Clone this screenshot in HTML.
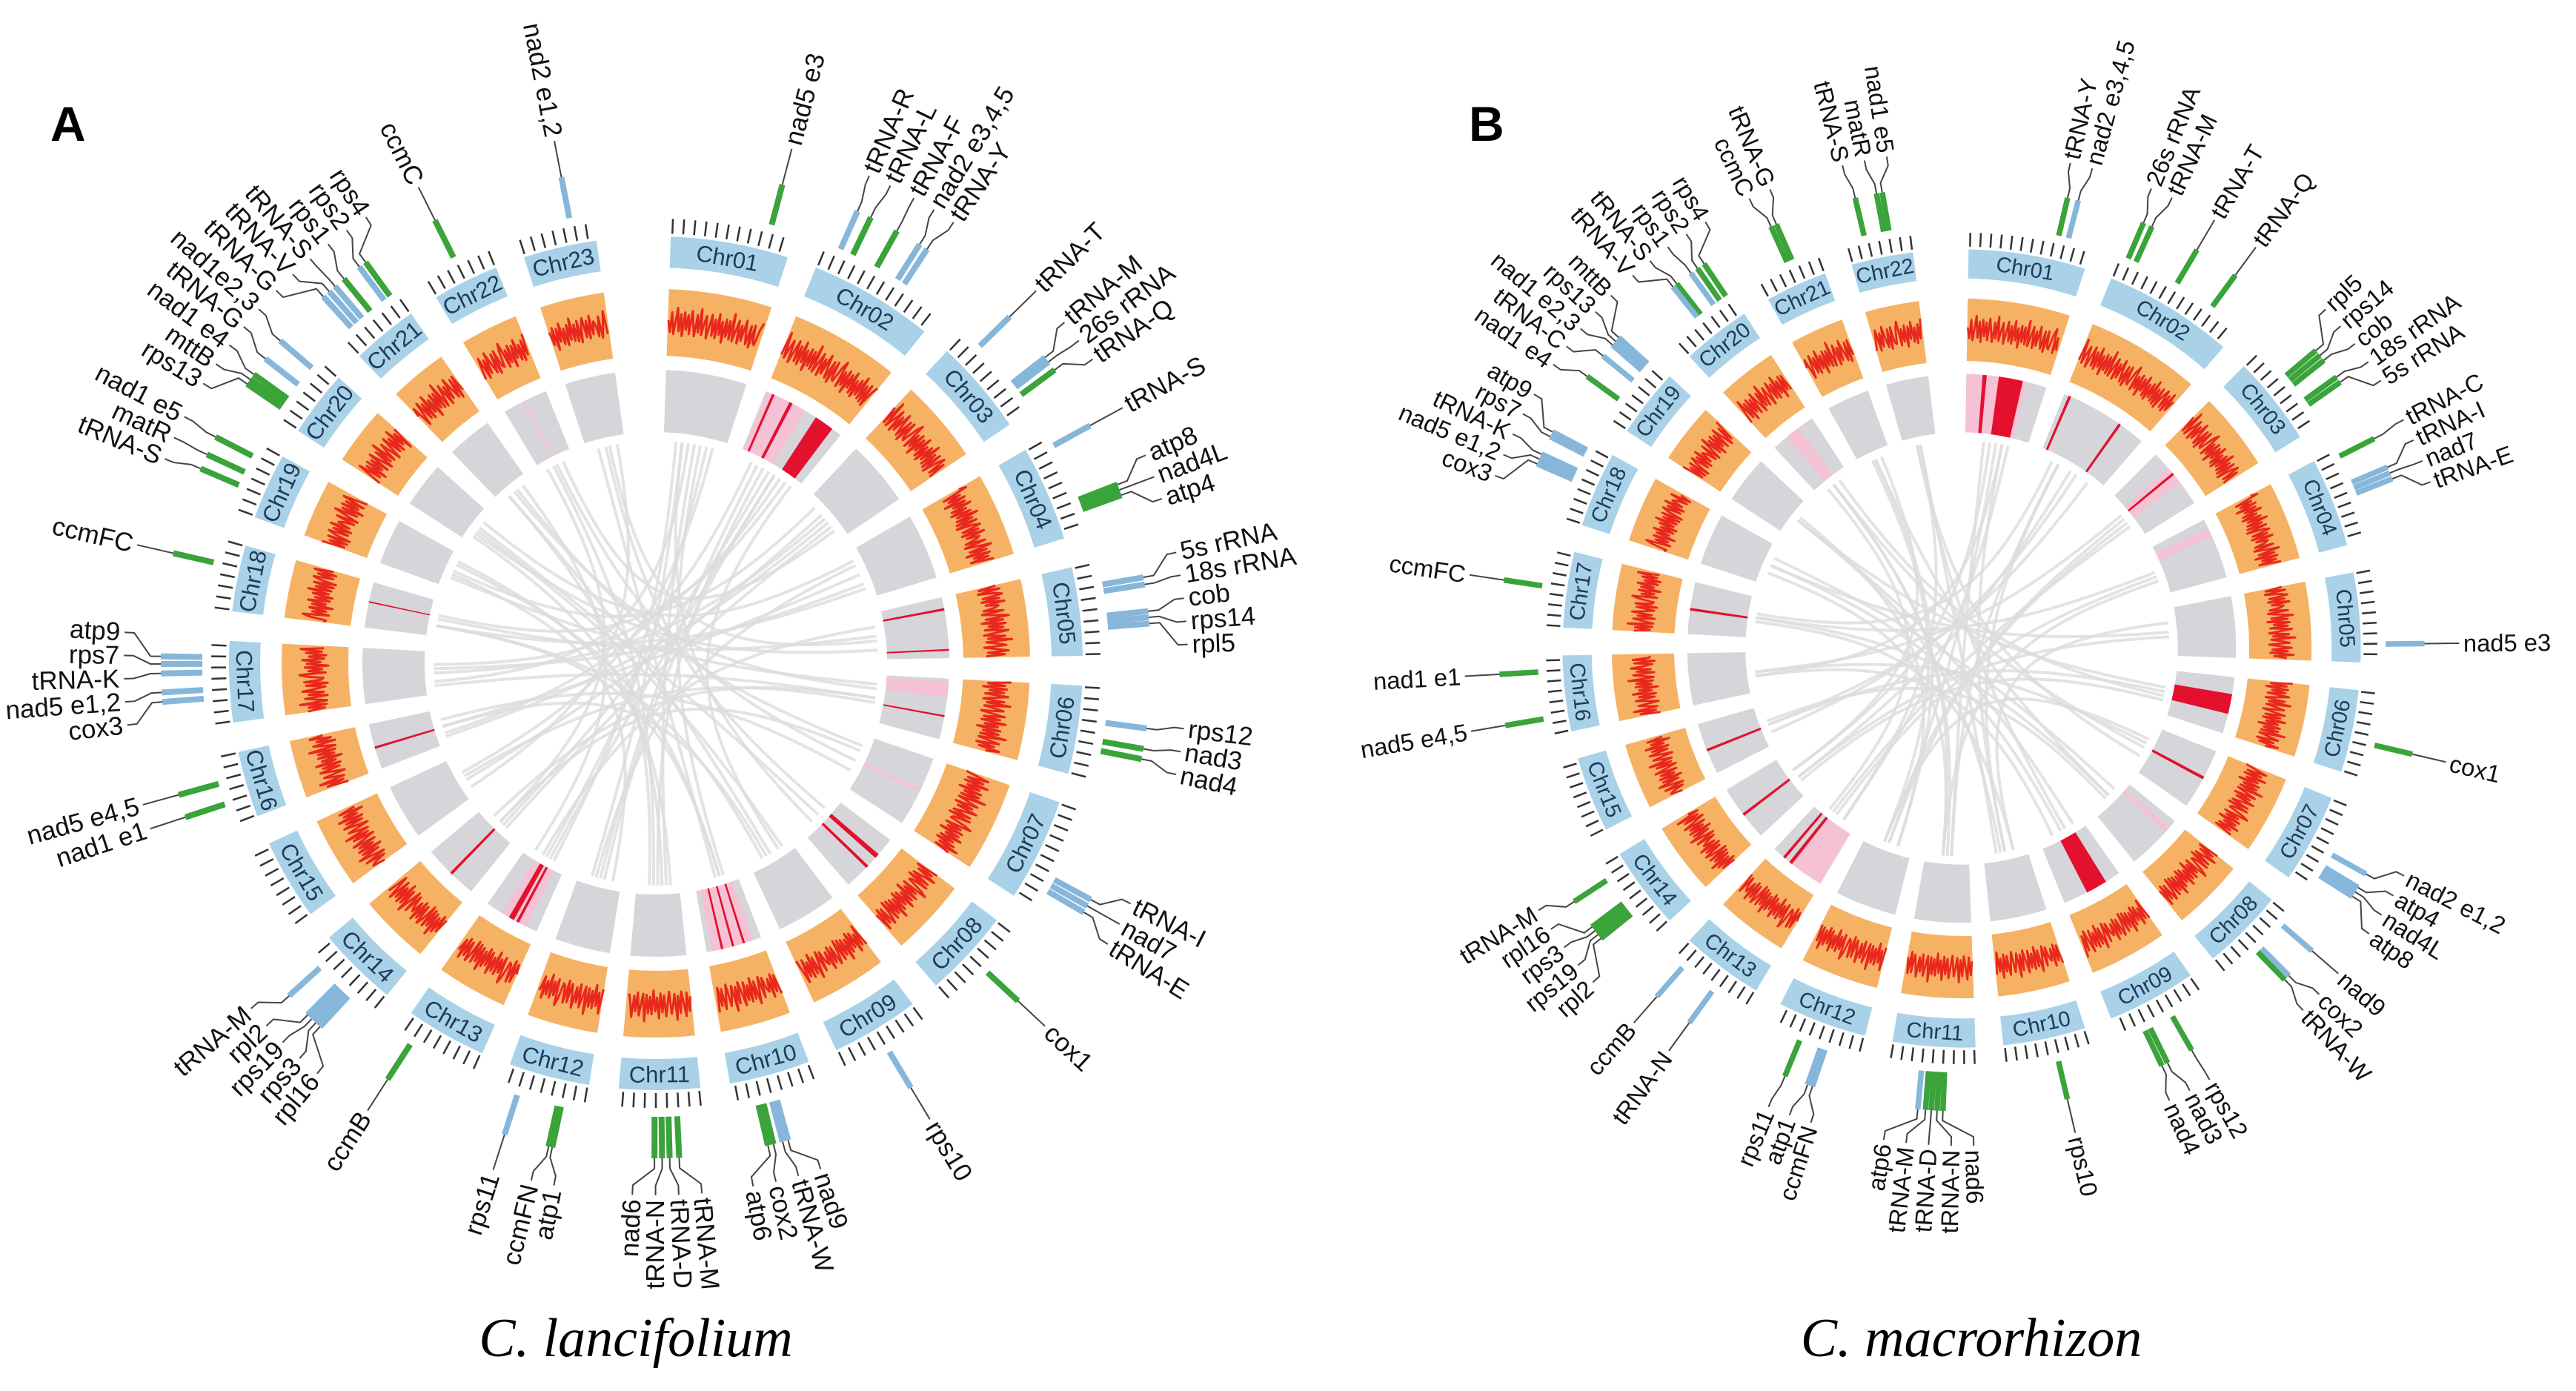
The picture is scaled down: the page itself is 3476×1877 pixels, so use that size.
<!DOCTYPE html>
<html><head><meta charset="utf-8"><title>Circos plots</title>
<style>
html,body{margin:0;padding:0;background:#fff;}
svg{display:block;}
text{font-family:"Liberation Sans",sans-serif;}
</style></head>
<body>
<svg id="fig" width="3476" height="1877" viewBox="0 0 3476 1877" xmlns="http://www.w3.org/2000/svg">
  <rect x="0" y="0" width="3476" height="1877" fill="#fff"/>
  <text x="68" y="190" font-size="66" font-weight="bold" fill="#000">A</text>
  <text x="1982" y="190" font-size="66" font-weight="bold" fill="#000">B</text>
  <text x="858" y="1830" font-size="74" font-style="italic" text-anchor="middle" style="font-family:'Liberation Serif',serif" fill="#000">C. lancifolium</text>
  <text x="2660" y="1830" font-size="74" font-style="italic" text-anchor="middle" style="font-family:'Liberation Serif',serif" fill="#000">C. macrorhizon</text>
  <g id="panelA"></g>
  <g id="panelB"></g>
</svg>
<script>
// ---------- DATA ----------
const chrSizesA = [16,17,13,13,12,12,14,12,12,11,11,11,11,11,11,9,11,9,9,9,9,9,10];
const chrSizesB = [17,19,13,13,13,12,13,12,13,12,12,13,12,12,11,11,11,11,10,10,9,9];

// GC-like wiggle values (hand entered, 0..1)
const wiggle = [0.55,0.32,0.71,0.28,0.52,0.80,0.34,0.68,0.25,0.72,0.38,0.67,0.30,0.76,0.50,0.27,0.69,0.35,0.82,0.31,
0.53,0.70,0.26,0.49,0.74,0.33,0.66,0.29,0.78,0.37,0.64,0.23,0.70,0.36,0.68,0.32,0.84,0.30,0.51,0.73,
0.28,0.65,0.35,0.77,0.50,0.31,0.69,0.26,0.72,0.38,0.34,0.67,0.81,0.29,0.63,0.36,0.70,0.24,0.66,0.39,
0.75,0.32,0.62,0.28,0.68,0.37,0.79,0.33,0.65,0.30,0.71,0.27,0.60,0.74,0.35,0.67,0.31,0.76,0.38,0.63];

// genes: chromosome number, relative position, colour code, name
const geneChrA = [23,22,21,21,21,21,21,21,20,20,20,20,20,19,19,19,18,17,17,17,17,17,16,16,14,14,14,14,14,13,12,12,12,11,11,11,11,10,10,10,10,9,8,7,7,7,6,6,6,5,5,5,5,5,4,4,4,4,3,3,3,3,2,2,2,2,2,1];
const genePosA = [0.7,0.5,0.2,0.3,0.4,0.55,0.8,0.9,0.85,0.55,0.3,0.22,0.15,0.8,0.55,0.35,0.65,0.8,0.72,0.62,0.42,0.32,0.62,0.32,0.8,0.52,0.46,0.4,0.34,0.8,0.8,0.32,0.28,0.3,0.4,0.48,0.56,0.72,0.66,0.56,0.5,0.5,0.5,0.68,0.74,0.8,0.38,0.58,0.68,0.25,0.32,0.58,0.64,0.7,0.1,0.68,0.73,0.78,0.2,0.68,0.73,0.82,0.12,0.22,0.42,0.6,0.66,0.8];
const geneColA = "bgbbbgbgbbgggggggbbbbbggbbbbbgbggggggggbbbgbbbbggbbbbbbgggbbbgbggbbg";
const geneNameA = ["nad2 e1,2","ccmC","tRNA-G","tRNA-V","tRNA-S","rps1","rps2","rps4","nad1e2,3","tRNA-G","nad1 e4","mttB","rps13","nad1 e5","matR","tRNA-S","ccmFC","atp9","rps7","tRNA-K","nad5 e1,2","cox3","nad5 e4,5","nad1 e1","tRNA-M","rpl2","rps19","rps3","rpl16","ccmB","rps11","ccmFN","atp1","tRNA-M","tRNA-D","tRNA-N","nad6","atp6","cox2","tRNA-W","nad9","rps10","cox1","tRNA-I","nad7","tRNA-E","rps12","nad3","nad4","5s rRNA","18s rRNA","cob","rps14","rpl5","tRNA-S","atp8","nad4L","atp4","tRNA-T","tRNA-M","26s rRNA","tRNA-Q","tRNA-R","tRNA-L","tRNA-F","nad2 e3,4,5","tRNA-Y","nad5 e3"];

const geneChrB = [22,22,22,21,21,20,20,20,20,20,19,19,19,19,19,18,18,18,18,18,17,16,16,14,14,14,14,14,13,13,12,12,12,11,11,11,11,11,10,9,9,9,8,8,8,7,7,7,7,6,5,4,4,4,4,3,3,3,3,3,2,2,2,2,1,1];
const genePosB = [0.3,0.6,0.68,0.6,0.52,0.92,0.82,0.72,0.5,0.44,0.92,0.86,0.8,0.62,0.3,0.9,0.84,0.62,0.56,0.5,0.5,0.8,0.22,0.82,0.5,0.45,0.4,0.35,0.85,0.42,0.65,0.42,0.37,0.62,0.54,0.48,0.42,0.36,0.4,0.72,0.66,0.4,0.15,0.5,0.56,0.55,0.7,0.75,0.8,0.6,0.8,0.08,0.38,0.44,0.5,0.38,0.44,0.5,0.7,0.76,0.06,0.12,0.45,0.75,0.72,0.8];
const geneColB = "gggggggbgbbbbbgbbbbbggggggggbbgbbbggggggggbbgbbbbgbgbbbggggggggggbgg";
const geneNameB = ["tRNA-S","matR","nad1 e5","tRNA-G","ccmC","rps4","rps2","rps1","tRNA-S","tRNA-V","mttB","rps13","nad1 e2,3","tRNA-C","nad1 e4","atp9","rps7","tRNA-K","nad5 e1,2","cox3","ccmFC","nad1 e1","nad5 e4,5","tRNA-M","rpl16","rps3","rps19","rpl2","ccmB","tRNA-N","rps11","atp1","ccmFN","atp6","tRNA-M","tRNA-D","tRNA-N","nad6","rps10","nad4","nad3","rps12","nad9","cox2","tRNA-W","nad2 e1,2","atp4","nad4L","atp8","cox1","nad5 e3","tRNA-C","tRNA-I","nad7","tRNA-E","rpl5","rps14","cob","18s rRNA","5s rRNA","26s rRNA","tRNA-M","tRNA-T","tRNA-Q","tRNA-Y","nad2 e3,4,5"];

// highlighted segments on the grey track: chr, start, end, kind (p=pink, r=red)
const hlChrA = [2,2,2,2,22,18,5,5,6,6,7,8,8,10,10,10,10,13,13,13,14,16];
const hlStartA = [0.02,0.08,0.3,0.65,0.45,0.55,0.18,0.85,0.05,0.6,0.45,0.3,0.55,0.15,0.3,0.5,0.7,0.2,0.35,0.45,0.45,0.45];
const hlEndA = [0.5,0.11,0.34,0.88,0.5,0.58,0.22,0.88,0.3,0.63,0.5,0.38,0.6,0.9,0.34,0.54,0.74,0.7,0.4,0.55,0.5,0.5];
const hlKindA = "prrrprrrprprrprrrprrrr";

const hlChrB = [1,1,1,2,2,3,3,4,6,7,8,9,9,13,13,13,14,15,17,20];
const hlStartB = [0.0,0.2,0.4,0.05,0.68,0.3,0.4,0.15,0.3,0.45,0.15,0.25,0.45,0.0,0.6,0.75,0.45,0.45,0.45,0.35];
const hlEndB = [0.75,0.25,0.7,0.08,0.71,0.6,0.44,0.3,0.65,0.5,0.25,0.6,0.5,0.6,0.66,0.8,0.5,0.5,0.5,0.65];
const hlKindB = "prrrrprprrprrprrrrrp";

// links: from chr, from pos, to chr, to pos
const linkFromA = [2,2,2,1,1,3,3,4,5,5,6,6,7,7,8,8,9,9,10,10,11,12,12,13,13,14,14,15,15,16,16,17,17,18,19,20,20,21,22,23,2,3,11,12,10,9,8,13,14,15,1,2,4,6,11,16,18,21];
const linkFromPosA = [0.3,0.4,0.5,0.5,0.7,0.5,0.2,0.5,0.5,0.8,0.3,0.6,0.5,0.3,0.5,0.3,0.5,0.7,0.4,0.5,0.6,0.4,0.6,0.3,0.6,0.3,0.7,0.4,0.6,0.3,0.7,0.3,0.6,0.6,0.3,0.7,0.4,0.6,0.7,0.6,0.7,0.6,0.4,0.2,0.3,0.3,0.7,0.8,0.5,0.2,0.3,0.6,0.8,0.5,0.2,0.5,0.3,0.3];
const linkToA = [12,11,14,11,13,17,19,16,18,20,21,15,22,14,20,23,21,18,19,23,22,2,4,1,5,3,6,3,1,2,7,1,4,2,6,4,9,7,3,5,17,16,20,19,1,2,1,21,22,23,12,13,18,17,19,9,10,11];
const linkToPosA = [0.5,0.5,0.4,0.3,0.5,0.5,0.5,0.5,0.5,0.3,0.5,0.5,0.5,0.5,0.5,0.5,0.3,0.3,0.7,0.3,0.4,0.6,0.3,0.2,0.3,0.7,0.5,0.4,0.8,0.2,0.7,0.4,0.7,0.8,0.2,0.2,0.2,0.2,0.8,0.6,0.7,0.2,0.2,0.4,0.6,0.9,0.3,0.8,0.2,0.8,0.7,0.4,0.3,0.2,0.8,0.6,0.4,0.7];

const linkFromB = [1,1,1,2,2,2,3,3,4,5,6,6,7,7,8,8,9,9,10,10,11,11,12,12,13,13,14,14,15,16,17,18,19,20,21,22,1,2,3,4,5,10,11,12,9,8,1,2,6,7];
const linkFromPosB = [0.3,0.5,0.7,0.3,0.5,0.8,0.4,0.7,0.5,0.5,0.4,0.7,0.5,0.3,0.5,0.6,0.4,0.7,0.5,0.3,0.4,0.6,0.5,0.3,0.5,0.7,0.4,0.6,0.5,0.5,0.5,0.5,0.5,0.5,0.5,0.5,0.4,0.6,0.5,0.7,0.3,0.7,0.5,0.6,0.2,0.3,0.6,0.2,0.6,0.7];
const linkToB = [11,12,13,10,14,15,16,13,17,18,19,14,20,12,21,15,22,16,1,17,2,18,3,19,4,20,5,21,6,7,8,9,10,11,12,13,14,15,12,11,10,22,20,21,19,18,16,17,20,22];
const linkToPosB = [0.4,0.5,0.3,0.5,0.4,0.5,0.5,0.6,0.5,0.5,0.5,0.3,0.5,0.6,0.5,0.6,0.4,0.4,0.6,0.4,0.3,0.3,0.6,0.6,0.6,0.3,0.6,0.7,0.5,0.4,0.5,0.5,0.6,0.6,0.3,0.3,0.6,0.3,0.6,0.6,0.3,0.5,0.5,0.4,0.5,0.7,0.4,0.6,0.7,0.4];

// ---------- RENDERING ----------
const NS = "http://www.w3.org/2000/svg";
function mk(tag, attrs, parent){
  const e = document.createElementNS(NS, tag);
  for (const k in attrs) e.setAttribute(k, attrs[k]);
  parent.appendChild(e);
  return e;
}
function pol(cx,cy,r,deg){ const a = deg*Math.PI/180; return [cx + r*Math.sin(a), cy - r*Math.cos(a)]; }
function sector(cx,cy,r1,r2,a1,a2){
  const p1=pol(cx,cy,r2,a1), p2=pol(cx,cy,r2,a2), p3=pol(cx,cy,r1,a2), p4=pol(cx,cy,r1,a1);
  const lg = (a2-a1)>180?1:0;
  return `M${p1[0]},${p1[1]} A${r2},${r2} 0 ${lg} 1 ${p2[0]},${p2[1]} L${p3[0]},${p3[1]} A${r1},${r1} 0 ${lg} 0 ${p4[0]},${p4[1]} Z`;
}

function drawPanel(g, cfg){
  const {cx, cy, s, start, gap, sizes} = cfg;
  const R = k => k*s;
  const starts = [];
  let a = start;
  sizes.forEach(L => { starts.push(a); a += L + gap; });
  const ang = (chr, pos) => starts[chr-1] + sizes[chr-1]*pos;

  const lg = mk('g', {}, g);
  
  
  for (let i=0;i<cfg.linkFrom.length;i++){
    const a1 = ang(cfg.linkFrom[i],cfg.linkFromPos[i]), a2 = ang(cfg.linkTo[i],cfg.linkToPos[i]);
    const p1 = pol(cx,cy,R(300),a1);
    const p2 = pol(cx,cy,R(300),a2);
    const c1 = pol(cx,cy,R(60),a1), c2 = pol(cx,cy,R(60),a2);
    const path = mk('path', {d:`M${p1[0]},${p1[1]} C${c1[0]},${c1[1]} ${c2[0]},${c2[1]} ${p2[0]},${p2[1]}`, fill:'none', stroke:'#dcdcdf', 'stroke-width':4, opacity:0.8}, lg);
    
    
  }

  sizes.forEach((L, i) => {
    const a1 = starts[i], a2 = a1 + L;
    const name = 'Chr' + String(i+1).padStart(2,'0');
    const band = mk('path', {d:sector(cx,cy,R(534),R(576),a1,a2), fill:'#a9d1e8'}, g);
    
    
    const mid = (a1+a2)/2;
    const pm = pol(cx,cy,R(555),mid);
    let rot = (mid>90 && mid<270) ? mid-180 : mid;
    const t = mk('text', {x:pm[0], y:pm[1], 'font-size':R(31), fill:'#1d3b57', 'text-anchor':'middle', 'dominant-baseline':'central', transform:`rotate(${rot} ${pm[0]} ${pm[1]})`}, g);
    t.textContent = name;
    
    
    for (let ta = a1+0.2; ta <= a2; ta += 1.45){
      const q1 = pol(cx,cy,R(580),ta), q2 = pol(cx,cy,R(600),ta);
      const tk = mk('line', {x1:q1[0], y1:q1[1], x2:q2[0], y2:q2[1], stroke:'#333', 'stroke-width':2.5}, g);
      
      
    }
    const ob = mk('path', {d:sector(cx,cy,R(415),R(505),a1,a2), fill:'#f6b264'}, g);
    
    
    let pts = [];
    let k = 0;
    for (let ta = a1+0.1; ta <= a2-0.1; ta += 0.3, k++){
      const v = wiggle[(i*17 + k) % wiggle.length];
      const p = pol(cx,cy,R(415 + 90*(0.12 + 0.76*v)),ta);
      pts.push(p[0].toFixed(1)+','+p[1].toFixed(1));
    }
    const wl = mk('polyline', {points:pts.join(' '), fill:'none', stroke:'#e8281e', 'stroke-width':R(3), 'stroke-linejoin':'round'}, g);
    
    
    const gb = mk('path', {d:sector(cx,cy,R(312),R(396),a1,a2), fill:'#d6d6da'}, g);
    
    
  });

  for (let i=0;i<cfg.hlChr.length;i++){
    const c = cfg.hlChr[i];
    const h = mk('path', {d:sector(cx,cy,R(312),R(396),ang(c,cfg.hlStart[i]),ang(c,cfg.hlEnd[i])), fill: cfg.hlKind[i]==='r' ? '#e3102e' : '#f4c2d4'}, g);
    
    
  }

  const n = cfg.geneChr.length;
  const gAng = [];
  for (let i=0;i<n;i++) gAng.push(ang(cfg.geneChr[i], cfg.genePos[i]));
  const order = gAng.map((v,i)=>i).sort((p,q)=>gAng[p]-gAng[q]);
  const lab = gAng.slice();
  const minSep = cfg.minSep;
  for (let it=0; it<200; it++){
    for (let j=0;j<order.length-1;j++){
      const p = order[j], q = order[j+1];
      const d = lab[q]-lab[p];
      if (d < minSep){ const push=(minSep-d)/2; lab[p]-=push; lab[q]+=push; }
    }
  }
  for (let i=0;i<n;i++){
    const a = gAng[i];
    const col = cfg.geneCol[i]==='g' ? '#3aa33a' : '#86b7da';
    const p1 = pol(cx,cy,R(612),a), p2 = pol(cx,cy,R(668),a);
    const bar = mk('line', {x1:p1[0], y1:p1[1], x2:p2[0], y2:p2[1], stroke:col, 'stroke-width':R(8)}, g);
    
    
    const e1 = pol(cx,cy,R(682),a), e2 = pol(cx,cy,R(705),lab[i]), e3 = pol(cx,cy,R(718),lab[i]);
    const ld = mk('polyline', {points:`${p2[0]},${p2[1]} ${e1[0]},${e1[1]} ${e2[0]},${e2[1]} ${e3[0]},${e3[1]}`, fill:'none', stroke:'#444', 'stroke-width':2}, g);
    
    
    const la = ((lab[i]%360)+360)%360;
    const tp = pol(cx,cy,R(724),la);
    const right = la < 180;
    const rot = right ? la-90 : la+90;
    const tx = mk('text', {x:tp[0], y:tp[1], 'font-size':R(35), fill:'#111', 'text-anchor': right?'start':'end', 'dominant-baseline':'central', transform:`rotate(${rot} ${tp[0]} ${tp[1]})`}, g);
    tx.textContent = cfg.geneName[i];
    
    
  }
}

drawPanel(document.getElementById('panelA'), {cx:885, cy:895, s:1, start:2, gap:4, sizes:chrSizesA,
  linkFrom:linkFromA, linkFromPos:linkFromPosA, linkTo:linkToA, linkToPos:linkToPosA,
  hlChr:hlChrA, hlStart:hlStartA, hlEnd:hlEndA, hlKind:hlKindA,
  geneChr:geneChrA, genePos:genePosA, geneCol:geneColA, geneName:geneNameA, minSep:2.5});
drawPanel(document.getElementById('panelB'), {cx:2647, cy:875, s:0.935, start:1, gap:4, sizes:chrSizesB,
  linkFrom:linkFromB, linkFromPos:linkFromPosB, linkTo:linkToB, linkToPos:linkToPosB,
  hlChr:hlChrB, hlStart:hlStartB, hlEnd:hlEndB, hlKind:hlKindB,
  geneChr:geneChrB, genePos:genePosB, geneCol:geneColB, geneName:geneNameB, minSep:2.6});
</script>
</body></html>
